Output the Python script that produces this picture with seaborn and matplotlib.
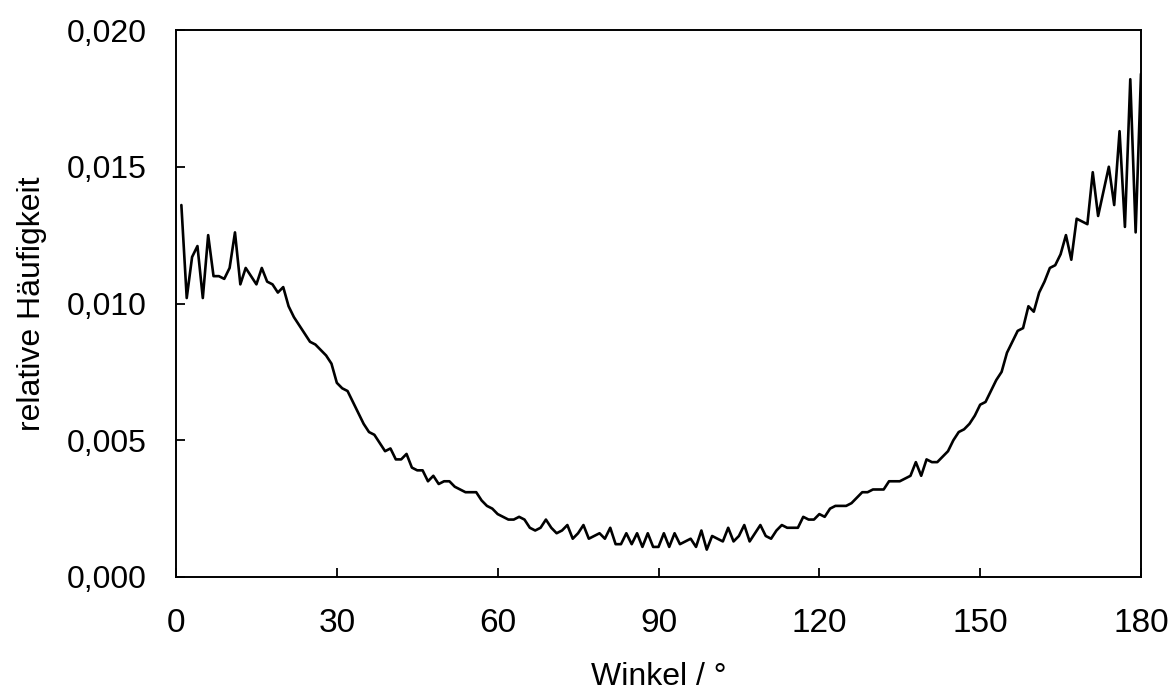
import matplotlib
matplotlib.use("Agg")
import matplotlib.pyplot as plt
import seaborn as sns
import pandas as pd
from matplotlib.ticker import FuncFormatter

angles = list(range(1, 181))
freq = [
    0.0136, 0.0102, 0.0117, 0.0121, 0.0102, 0.0125, 0.0110, 0.0110, 0.0109, 0.0113,
    0.0126, 0.0107, 0.0113, 0.0110, 0.0107, 0.0113, 0.0108, 0.0107, 0.0104, 0.0106,
    0.0099, 0.0095, 0.0092, 0.0089, 0.0086, 0.0085, 0.0083, 0.0081, 0.0078, 0.0071,
    0.0069, 0.0068, 0.0064, 0.0060, 0.0056, 0.0053, 0.0052, 0.0049, 0.0046, 0.0047,
    0.0043, 0.0043, 0.0045, 0.0040, 0.0039, 0.0039, 0.0035, 0.0037, 0.0034, 0.0035,
    0.0035, 0.0033, 0.0032, 0.0031, 0.0031, 0.0031, 0.0028, 0.0026, 0.0025, 0.0023,
    0.0022, 0.0021, 0.0021, 0.0022, 0.0021, 0.0018, 0.0017, 0.0018, 0.0021, 0.0018,
    0.0016, 0.0017, 0.0019, 0.0014, 0.0016, 0.0019, 0.0014, 0.0015, 0.0016, 0.0014,
    0.0018, 0.0012, 0.0012, 0.0016, 0.0012, 0.0016, 0.0011, 0.0016, 0.0011, 0.0011,
    0.0016, 0.0011, 0.0016, 0.0012, 0.0013, 0.0014, 0.0011, 0.0017, 0.0010, 0.0015,
    0.0014, 0.0013, 0.0018, 0.0013, 0.0015, 0.0019, 0.0013, 0.0016, 0.0019, 0.0015,
    0.0014, 0.0017, 0.0019, 0.0018, 0.0018, 0.0018, 0.0022, 0.0021, 0.0021, 0.0023,
    0.0022, 0.0025, 0.0026, 0.0026, 0.0026, 0.0027, 0.0029, 0.0031, 0.0031, 0.0032,
    0.0032, 0.0032, 0.0035, 0.0035, 0.0035, 0.0036, 0.0037, 0.0042, 0.0037, 0.0043,
    0.0042, 0.0042, 0.0044, 0.0046, 0.0050, 0.0053, 0.0054, 0.0056, 0.0059, 0.0063,
    0.0064, 0.0068, 0.0072, 0.0075, 0.0082, 0.0086, 0.0090, 0.0091, 0.0099, 0.0097,
    0.0104, 0.0108, 0.0113, 0.0114, 0.0118, 0.0125, 0.0116, 0.0131, 0.0130, 0.0129,
    0.0148, 0.0132, 0.0141, 0.0150, 0.0136, 0.0163, 0.0128, 0.0182, 0.0126, 0.0184,
]
x_ticks = [0, 30, 60, 90, 120, 150, 180]
y_ticks = [0.000, 0.005, 0.010, 0.015, 0.020]
x_label = "Winkel / °"
y_label = "relative Häufigkeit"

df = pd.DataFrame({"Winkel": angles, "Haeufigkeit": freq})

sns.set_style("ticks")
plt.rcParams["font.family"] = ["Liberation Sans", "DejaVu Sans"]

fig = plt.figure(figsize=(11.71, 6.98), dpi=100)
ax = fig.add_axes([176 / 1171, 1 - 577 / 698, (1141 - 176) / 1171, (577 - 30) / 698])

sns.lineplot(data=df, x="Winkel", y="Haeufigkeit", ax=ax, color="black", linewidth=1.9)

ax.set_xlim(0, 180)
ax.set_ylim(0, 0.020)
ax.set_xticks(x_ticks)
ax.set_yticks(y_ticks)
ax.yaxis.set_major_formatter(FuncFormatter(lambda v, p: f"{v:.3f}".replace(".", ",")))
ax.tick_params(axis="both", direction="in", length=6.5, width=1.3, colors="black")
ax.tick_params(axis="x", pad=22, labelsize=24)
ax.tick_params(axis="y", pad=21, labelsize=23)
ax.tick_params(top=False, right=False)
for s in ax.spines.values():
    s.set_visible(True)
    s.set_color("black")
    s.set_linewidth(1.4)

ax.set_xlabel(x_label, fontsize=23, labelpad=17, color="black")
ax.set_ylabel(y_label, fontsize=23, labelpad=14, color="black")

fig.savefig("out.png", dpi=100)
